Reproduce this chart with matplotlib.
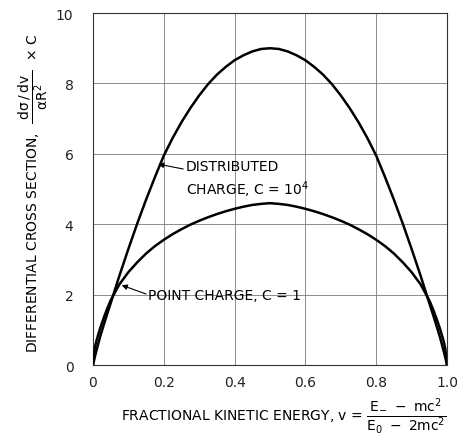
import matplotlib
matplotlib.use("Agg")
import matplotlib.pyplot as plt
from matplotlib.patches import Rectangle

# fractional kinetic energy and the two cross sections (symmetric about v = 0.5)
v_half = [0.0, 0.005, 0.01, 0.02, 0.03, 0.04, 0.05, 0.075, 0.1, 0.125, 0.15,
          0.175, 0.2, 0.225, 0.25, 0.275, 0.3, 0.325, 0.35, 0.375, 0.4,
          0.425, 0.45, 0.475, 0.5]
distributed_half = [0.0, 0.22, 0.42, 0.8, 1.13, 1.45, 1.76, 2.55, 3.3, 4.02,
                    4.7, 5.34, 5.95, 6.45, 6.9, 7.3, 7.66, 7.98, 8.25, 8.47,
                    8.66, 8.8, 8.91, 8.98, 9.0]
point_half = [0.0, 0.48, 0.7, 1.04, 1.33, 1.6, 1.84, 2.3, 2.64, 2.92, 3.17,
              3.38, 3.56, 3.72, 3.86, 3.99, 4.1, 4.2, 4.29, 4.37, 4.44, 4.5,
              4.55, 4.58, 4.6]

v = v_half + [round(1 - x, 3) for x in v_half[-2::-1]]
distributed = distributed_half + distributed_half[-2::-1]
point = point_half + point_half[-2::-1]

xticks = [0, 0.2, 0.4, 0.6, 0.8, 1.0]
xticklabels = ["0", "0.2", "0.4", "0.6", "0.8", "1.0"]
yticks = [0, 2, 4, 6, 8, 10]

plt.rcParams["font.family"] = ["DejaVu Sans"]
plt.rcParams["mathtext.fontset"] = "dejavusans"
plt.rcParams["mathtext.default"] = "regular"

fig = plt.figure(figsize=(4.58, 4.39), dpi=100)
ax = fig.add_axes([0.203, 0.166, 0.773, 0.802])

ax.set_xlim(0, 1.0)
ax.set_ylim(0, 10)
ax.set_xticks(xticks)
ax.set_xticklabels(xticklabels)
ax.set_yticks(yticks)
ax.tick_params(length=0, labelsize=10, colors="#222222")
ax.tick_params(axis="x", pad=7)
ax.tick_params(axis="y", pad=14)
ax.grid(True, color="#7a7a7a", lw=0.6, zorder=0)
for s in ax.spines.values():
    s.set_linewidth(0.8)
    s.set_color("#333333")

# white panels that break the grid behind the labels
ax.add_patch(Rectangle((0.245, 4.7), 0.51, 1.52, facecolor="white",
                       edgecolor="none", zorder=1))
ax.add_patch(Rectangle((0.062, 1.45), 0.622, 1.22, facecolor="white",
                       edgecolor="none", zorder=1))

ax.plot(v, distributed, color="black", lw=1.8, zorder=3, solid_capstyle="round")
ax.plot(v, point, color="black", lw=1.8, zorder=3, solid_capstyle="round")

arrow = dict(arrowstyle="-|>", color="black", lw=0.8, mutation_scale=8,
             shrinkA=0, shrinkB=0)
ax.annotate("", xy=(0.184, 5.71), xytext=(0.255, 5.57), arrowprops=arrow,
            zorder=4)
ax.text(0.263, 5.65, "DISTRIBUTED", fontsize=10, va="center", zorder=4)
ax.text(0.263, 5.0, "CHARGE, C = 10$^4$", fontsize=10, va="center", zorder=4)

ax.annotate("", xy=(0.081, 2.27), xytext=(0.15, 2.02), arrowprops=arrow,
            zorder=4)
ax.text(0.156, 2.0, "POINT CHARGE, C = 1", fontsize=10, va="center", zorder=4)

ax.set_ylabel(r"DIFFERENTIAL CROSS SECTION,  $\dfrac{\ d\sigma\,/\,dv\ }{\alpha R^2}$  $\times$ C",
              fontsize=10)
ax.yaxis.set_label_coords(-0.12, 0.49)
ax.set_xlabel(r"FRACTIONAL KINETIC ENERGY, v = $\dfrac{E_{-}\ -\ mc^2}{E_0\ -\ 2mc^2}$",
              fontsize=10, va="center")
ax.xaxis.set_label_coords(0.54, -0.145)

fig.savefig("out.png", dpi=100)
